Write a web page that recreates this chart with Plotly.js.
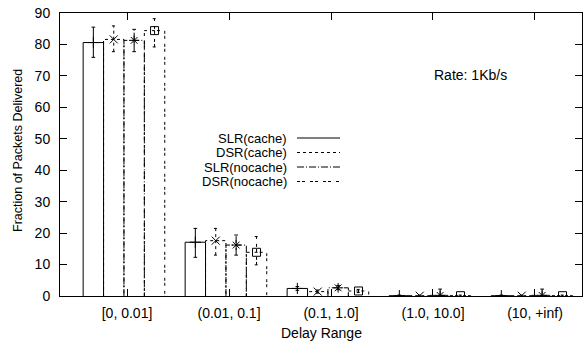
<!DOCTYPE html>
<html>
<head>
<meta charset="utf-8">
<script src="https://cdn.plot.ly/plotly-3.0.1.min.js"></script>
<style>html,body{margin:0;padding:0;background:#fff;}#chart{width:583px;height:341px;}</style>
</head>
<body>
<div id="chart"></div>
<script>
// ---- data ----
const categories = ['[0, 0.01]', '(0.01, 0.1]', '(0.1, 1.0]', '(1.0, 10.0]', '(10, +inf)'];
const seriesNames = ['SLR(cache)', 'DSR(cache)', 'SLR(nocache)', 'DSR(nocache)'];
const slrCache      = [80.6, 17.1, 2.4, 0.1, 0.1];
const slrCacheLow   = [75.9, 12.3, 1.8, 0.0, 0.0];
const slrCacheHigh  = [85.5, 21.5, 3.0, 0.3, 0.3];
const dsrCache      = [81.6, 17.6, 1.4, 0.1, 0.1];
const dsrCacheLow   = [77.7, 13.0, 0.9, 0.0, 0.0];
const dsrCacheHigh  = [85.9, 21.5, 1.9, 0.3, 0.3];
const slrNocache     = [81.3, 16.2, 2.6, 0.2, 0.2];
const slrNocacheLow  = [77.7, 13.0, 2.0, 0.0, 0.0];
const slrNocacheHigh = [84.8, 19.4, 3.3, 2.2, 2.2];
const dsrNocache     = [84.4, 13.9, 1.6, 0.1, 0.1];
const dsrNocacheLow  = [79.2, 9.9, 1.1, 0.0, 0.0];
const dsrNocacheHigh = [88.2, 18.9, 2.1, 0.3, 0.3];
const rateLabel = 'Rate: 1Kb/s';

// ---- styles ----
const values = [slrCache, dsrCache, slrNocache, dsrNocache];
const lows = [slrCacheLow, dsrCacheLow, slrNocacheLow, dsrNocacheLow];
const highs = [slrCacheHigh, dsrCacheHigh, slrNocacheHigh, dsrNocacheHigh];
const dashes = ['solid', '3px,3px', '7px,2px,1px,2px', '3px,2px,3px,5px'];
const symbols = ['cross-thin-open', 'x-thin-open', 'asterisk-open', 'square-open'];
const offsets = [-0.33, -0.13, 0.07, 0.27];
const barW = 0.2;
const capW = 0.018;
const FONT = 'Liberation Sans, Arial, Helvetica, sans-serif';

const traces = [];
values.forEach((vals, s) => {
  const xs = [], ys = [];
  vals.forEach((v, i) => {
    const c = i + offsets[s];
    const l = c - barW / 2, r = c + barW / 2;
    xs.push(l, l, r, r, null); ys.push(0, v, v, 0, null);
    // error bar
    xs.push(c, c, null); ys.push(lows[s][i], highs[s][i], null);
    xs.push(c - capW, c + capW, null); ys.push(lows[s][i], lows[s][i], null);
    xs.push(c - capW, c + capW, null); ys.push(highs[s][i], highs[s][i], null);
  });
  traces.push({
    type: 'scatter', mode: 'lines', x: xs, y: ys, connectgaps: false,
    line: {color: '#000', width: 1, dash: dashes[s]}, hoverinfo: 'skip', showlegend: false
  });
  traces.push({
    type: 'scatter', mode: 'markers', name: seriesNames[s],
    x: vals.map((v, i) => i + offsets[s]), y: vals,
    marker: {symbol: symbols[s], size: 8, color: '#000', line: {color: '#000', width: 1}},
    showlegend: false
  });
});

// pixel helpers for legend / labels (plot area 60..582 x 13..296)
const L = 60, R = 582, T = 13, B = 296;
const px = x => (x - L) / (R - L);
const py = y => (B - y) / (B - T);

const annotations = [];
const shapes = [];
const legRows = [138, 152.5, 167, 181.5];
seriesNames.forEach((n, s) => {
  annotations.push({xref: 'paper', yref: 'paper', x: px(288), y: py(legRows[s]), xanchor: 'right', yanchor: 'middle',
    text: n, showarrow: false, borderpad: 0, font: {family: FONT, size: 13, color: '#000'}});
  shapes.push({type: 'line', xref: 'paper', yref: 'paper', x0: px(297), x1: px(340), y0: py(legRows[s]), y1: py(legRows[s]),
    line: {color: '#000', width: 1, dash: dashes[s]}});
});
annotations.push({xref: 'paper', yref: 'paper', x: px(470), y: py(75), xanchor: 'center', yanchor: 'middle',
  text: rateLabel, showarrow: false, font: {family: FONT, size: 14, color: '#000'}});
annotations.push({xref: 'paper', yref: 'paper', x: px(18), y: py(151), xanchor: 'center', yanchor: 'middle',
  text: 'Fraction of Packets Delivered', textangle: -90, showarrow: false, font: {family: FONT, size: 12.5, color: '#000'}});
annotations.push({xref: 'paper', yref: 'paper', x: px(321), y: py(333), xanchor: 'center', yanchor: 'middle',
  text: 'Delay Range', showarrow: false, font: {family: FONT, size: 14, color: '#000'}});

const layout = {
  width: 583, height: 341,
  margin: {l: L, r: 583 - R, t: T, b: 341 - B, pad: 0},
  paper_bgcolor: '#fff', plot_bgcolor: '#fff',
  showlegend: false,
  font: {family: FONT, size: 14, color: '#000'},
  xaxis: {
    range: [-0.657, 4.461], tickmode: 'array', tickvals: categories.map((c, i) => i), ticktext: categories,
    ticks: 'inside', ticklen: 7, tickcolor: '#000', tickwidth: 1,
    showline: true, linecolor: '#000', linewidth: 1, mirror: 'ticks',
    showgrid: false, zeroline: false, ticklabelstandoff: 4,
    tickfont: {family: FONT, size: 14, color: '#000'}
  },
  yaxis: {
    range: [0, 90], tickmode: 'array', tickvals: [0, 10, 20, 30, 40, 50, 60, 70, 80, 90],
    ticks: 'inside', ticklen: 7, tickcolor: '#000', tickwidth: 1,
    showline: true, linecolor: '#000', linewidth: 1, mirror: 'ticks',
    showgrid: false, zeroline: false, ticklabelstandoff: 6,
    tickfont: {family: FONT, size: 14, color: '#000'}
  },
  annotations: annotations,
  shapes: shapes
};

Plotly.newPlot('chart', traces, layout, {staticPlot: true, displayModeBar: false});
</script>
</body>
</html>
